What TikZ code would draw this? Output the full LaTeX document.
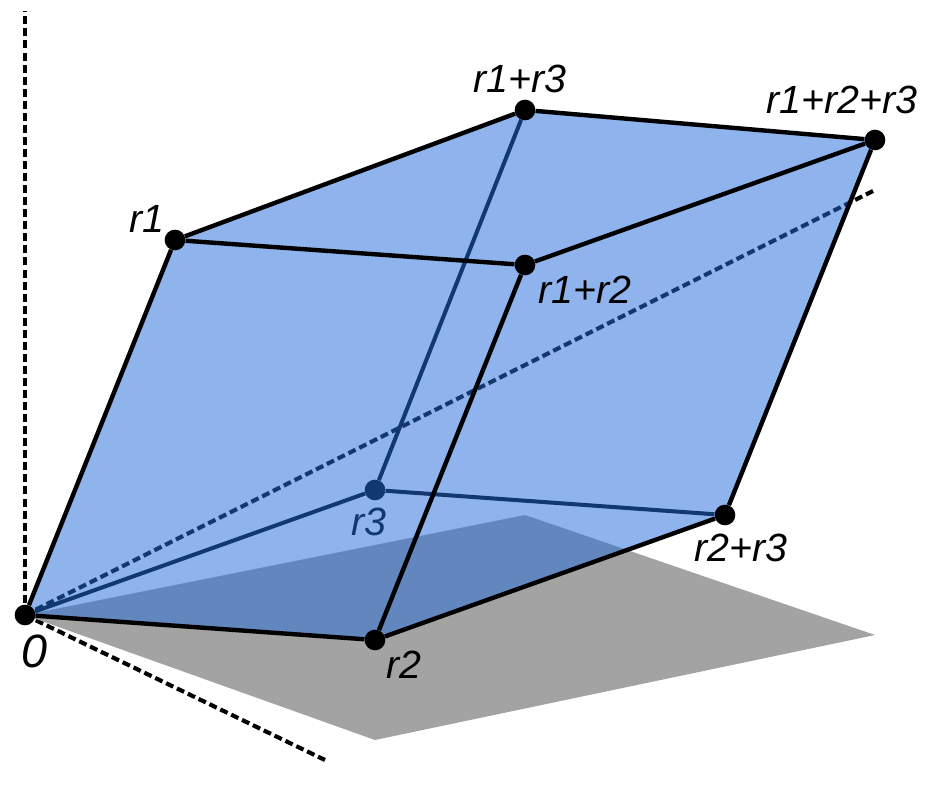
\documentclass[tikz,border=0pt]{standalone}
\usepackage{fontspec}
\setmainfont{Liberation Sans}
\definecolor{faceblue}{HTML}{8FB3EC}
\definecolor{overlapblue}{HTML}{6287BF}
\definecolor{planegray}{HTML}{A3A3A3}
\definecolor{backblue}{HTML}{123870}
\tikzset{
  dot/.style={circle,fill=black,inner sep=0pt,minimum size=15.5pt},
  backdot/.style={dot,fill=backblue},
  edgeline/.style={line width=3.3pt,black},
  backline/.style={line width=3pt,backblue},
  axisline/.style={line width=3.1pt,dash pattern=on 6pt off 3.04pt},
  lab/.style={font=\fontsize{29.5}{29.5}\selectfont\itshape,inner sep=0pt},
}
\begin{document}
\begin{tikzpicture}[x=0.75pt,y=-0.75pt]
\useasboundingbox (0,0) rectangle (951,785);
% coordinates
\coordinate (O) at (25,615);
\coordinate (A) at (175,240);
\coordinate (B) at (375,640);
\coordinate (C) at (375,490);
\coordinate (AB) at (525,265);
\coordinate (AC) at (525,110);
\coordinate (ABC) at (875,140);
\coordinate (BC) at (725,515);
\coordinate (Vtop) at (25,11);
\coordinate (Ltip) at (325,760);
\coordinate (Dtip) at (875,190);
\coordinate (P1) at (375,740);
\coordinate (P2) at (875,635);
\coordinate (P3) at (525,515);
% axes behind the solid
\draw[axisline] (O) -- (Vtop);
\draw[axisline] (O) -- (Ltip);
\draw[axisline] (O) -- (Dtip);
% plane
\fill[planegray] (O) -- (P1) -- (P2) -- (P3) -- cycle;
% solid
\fill[faceblue] (O) -- (A) -- (AC) -- (ABC) -- (BC) -- (B) -- cycle;
\begin{scope}
  \clip (O) -- (A) -- (AC) -- (ABC) -- (BC) -- (B) -- cycle;
  \fill[overlapblue] (O) -- (P1) -- (P2) -- (P3) -- cycle;
  \draw[axisline,backblue] (O) -- (Dtip);
\end{scope}
% vertices
\node[dot] (n0) at (O) {};
\node[dot] (n1) at (A) {};
\node[dot] (n2) at (B) {};
\node[backdot] (n3) at (C) {};
\node[dot] (n12) at (AB) {};
\node[dot] (n13) at (AC) {};
\node[dot] (n123) at (ABC) {};
\node[dot] (n23) at (BC) {};
% hidden edges
\draw[backline] (n0) -- (n3);
\draw[backline] (n3) -- (n13);
\draw[backline] (n3) -- (n23);
% visible edges
\draw[edgeline] (n0) -- (n1);
\draw[edgeline] (n0) -- (n2);
\draw[edgeline] (n1) -- (n13);
\draw[edgeline] (n1) -- (n12);
\draw[edgeline] (n13) -- (n123);
\draw[edgeline] (n12) -- (n123);
\draw[edgeline] (n12) -- (n2);
\draw[edgeline] (n2) -- (n23);
\draw[edgeline] (n23) -- (n123);
% labels
\node[lab,font=\fontsize{35}{35}\selectfont\itshape] (l0) at (34,651) {0};
\node[lab] (l1) at (147,219) {r1};
\node[lab] (l2) at (404,665) {r2};
\node[lab,text=backblue] (l3) at (369,522) {r3};
\node[lab] (l12) at (585,290) {r1+r2};
\node[lab] (l13) at (520,79) {r1+r3};
\node[lab] (l123) at (842,100) {r1+r2+r3};
\node[lab] (l23) at (741,548) {r2+r3};
\end{tikzpicture}
\end{document}
